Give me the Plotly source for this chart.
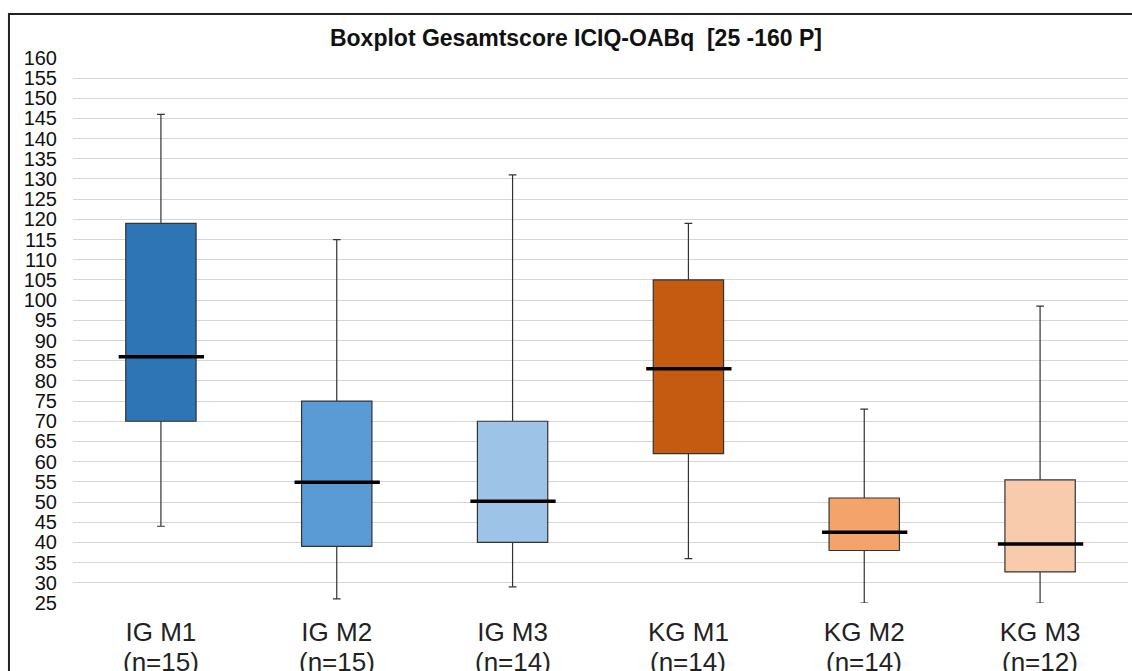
import plotly.graph_objects as go

categories = ["IG M1", "IG M2", "IG M3", "KG M1", "KG M2", "KG M3"]
n_counts = [15, 15, 14, 14, 14, 12]
lower_whisker = [44, 26, 29, 36, 25, 25]
q1_values = [70, 39, 40, 62, 38, 32.7]
median_values = [86, 54.9, 50.2, 83, 42.5, 39.6]
q3_values = [119, 75, 70, 105, 51, 55.5]
upper_whisker = [146, 115, 131, 119, 73, 98.5]
colors = ["#2E75B6", "#5B9BD5", "#9DC3E6", "#C55A11", "#F4A46B", "#F8CBAD"]
y_ticks = list(range(25, 165, 5))

fig = go.Figure()
positions = list(range(len(categories)))
for i, cat in enumerate(categories):
    fig.add_trace(go.Box(
        x=[positions[i]], q1=[q1_values[i]], median=[median_values[i]], q3=[q3_values[i]],
        lowerfence=[lower_whisker[i]], upperfence=[upper_whisker[i]],
        name=cat, width=0.4, whiskerwidth=0.11, fillcolor=colors[i],
        line=dict(color="#333333", width=1.2), boxpoints=False, showlegend=False,
        hoverinfo="skip",
    ))
for i, cat in enumerate(categories):
    fig.add_trace(go.Scatter(
        x=[positions[i] - 0.24, positions[i] + 0.245],
        y=[median_values[i], median_values[i]],
        mode="lines", line=dict(color="black", width=3.5), showlegend=False,
        hoverinfo="skip",
    ))

annotations = [
    dict(x=positions[i], y=-0.108, xref="x", yref="paper", text=f"(n={n})",
         showarrow=False, xanchor="center", yanchor="middle",
         font=dict(family="Liberation Sans, Arial", size=26, color="#222222"))
    for i, n in enumerate(n_counts)
]

fig.update_layout(
    width=1132, height=671,
    margin=dict(l=73, r=4, t=57, b=68),
    paper_bgcolor="white", plot_bgcolor="white",
    title=dict(text="<b>Boxplot Gesamtscore ICIQ-OABq  [25 -160 P]</b>",
               x=576 / 1132, xref="container", xanchor="center",
               y=1 - 38 / 671, yref="container", yanchor="middle",
               font=dict(family="Liberation Sans, Arial", size=23, color="#111111")),
    xaxis=dict(range=[-0.5, 5.5], tickvals=positions, ticktext=categories,
               showgrid=False, zeroline=False, showline=False, ticks="",
               tickfont=dict(family="Liberation Sans, Arial", size=26, color="#222222"),
               ticklabelstandoff=11),
    yaxis=dict(range=[25, 160.2], tickvals=y_ticks, showgrid=True,
               gridcolor="#D6D6D6", gridwidth=1, zeroline=False, showline=False,
               ticks="", ticklabelstandoff=15,
               tickfont=dict(family="Liberation Sans, Arial", size=20, color="#111111")),
    annotations=annotations,
    shapes=[dict(type="rect", xref="paper", yref="paper",
                 x0=-0.0607, x1=1.05, y0=-0.3, y1=1.0788,
                 line=dict(color="#222222", width=2), fillcolor="rgba(0,0,0,0)",
                 layer="below")],
)

fig.write_html("out.html")
